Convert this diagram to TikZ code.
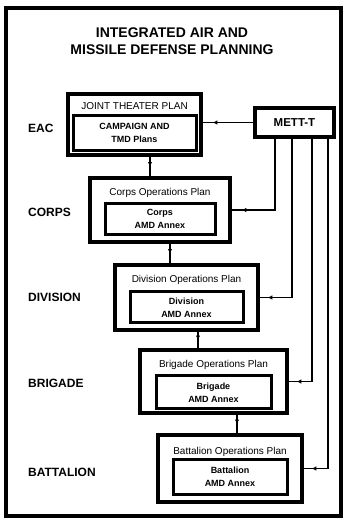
\documentclass[tikz,border=0pt]{standalone}
\usepackage{fontspec}
\setmainfont{Liberation Sans}
\usetikzlibrary{arrows.meta,decorations.markings}
\tikzset{
  framebox/.style={draw, line width=4pt},
  outerbox/.style={draw, line width=3.5pt, inner sep=0pt, fill=white},
  innerbox/.style={draw, line width=3pt, inner sep=0pt},
  conn/.style={line width=1.5pt},
  marked/.style={postaction=decorate, decoration={markings,
     mark=at position #1 with {\arrow{Latex[length=4.5pt,width=4.5pt]}}}},
  titletext/.style={font=\bfseries\fontsize{14}{17}\selectfont, align=center, inner sep=0pt},
  leveltext/.style={font=\bfseries\fontsize{12}{12}\selectfont, anchor=west, inner sep=0pt},
  boxtitle/.style={font=\fontsize{10}{10}\selectfont, inner sep=0pt},
  innertext/.style={font=\bfseries\fontsize{9}{13}\selectfont, align=center, inner sep=0pt},
}
\begin{document}
\begin{tikzpicture}[x=1pt,y=-1pt]
\useasboundingbox (0,0) rectangle (344,520);
\fill[white] (0,0) rectangle (344,520);
\draw[framebox] (5.5,7.5) rectangle (341,515.5);

\node[titletext] (title) at (172,41) {INTEGRATED AIR AND\\MISSILE DEFENSE PLANNING};

% level labels
\node[leveltext] (leac) at (28,128) {EAC};
\node[leveltext] (lcorps) at (28,212) {CORPS};
\node[leveltext] (ldiv) at (28,297) {DIVISION};
\node[leveltext] (lbde) at (28,383) {BRIGADE};
\node[leveltext] (lbn) at (28,472) {BATTALION};

% EAC
\node[outerbox, minimum width=133pt, minimum height=61pt] (eac) at (134.5,124.5) {};
\node[boxtitle] (eact) at (134.5,106) {JOINT THEATER PLAN};
\node[innerbox, minimum width=123pt, minimum height=35pt] (eacin) at (134.5,132.5) {};
\node[innertext] (eacint) at (134.5,132.5) {CAMPAIGN AND\\TMD Plans};

% Corps
\node[outerbox, minimum width=140pt, minimum height=64pt] (corps) at (160,210) {};
\node[boxtitle] (corpst) at (160,193) {Corps Operations Plan};
\node[innerbox, minimum width=110pt, minimum height=31pt] (corpsin) at (160,218.5) {};
\node[innertext] (corpsint) at (160,219) {Corps\\AMD Annex};

% Division
\node[outerbox, minimum width=143pt, minimum height=65pt] (div) at (186.5,297.5) {};
\node[boxtitle] (divt) at (186.5,280) {Division Operations Plan};
\node[innerbox, minimum width=113pt, minimum height=31pt] (divin) at (186.5,306.5) {};
\node[innertext] (divint) at (186.5,307.5) {Division\\AMD Annex};

% Brigade
\node[outerbox, minimum width=147pt, minimum height=63pt] (bde) at (213.5,381.5) {};
\node[boxtitle] (bdet) at (213.5,365) {Brigade Operations Plan};
\node[innerbox, minimum width=115pt, minimum height=33pt] (bdein) at (213.5,391.5) {};
\node[innertext] (bdeint) at (213.5,392.5) {Brigade\\AMD Annex};

% Battalion
\node[outerbox, minimum width=144pt, minimum height=67pt] (bn) at (230,468.5) {};
\node[boxtitle] (bnt) at (230,452) {Battalion Operations Plan};
\node[innerbox, minimum width=114pt, minimum height=35pt] (bnin) at (230,476.5) {};
\node[innertext] (bnint) at (230,477) {Battalion\\AMD Annex};

% METT-T
\node[outerbox, minimum width=79pt, minimum height=29pt, font=\bfseries\fontsize{11.5}{11.5}\selectfont] (mett) at (294.5,122.5) {METT-T};

% vertical connector x positions
\coordinate (v1) at (150,0);
\coordinate (v2) at (170,0);
\coordinate (v3) at (198,0);
\coordinate (v4) at (237,0);
\coordinate (m1) at (275,0);
\coordinate (m2) at (292,0);
\coordinate (m3) at (312,0);
\coordinate (m4) at (328,0);

\draw[conn, marked=0.5] (v1 |- eac.south) -- (v1 |- corps.north);
\draw[conn, marked=0.5] (v2 |- corps.south) -- (v2 |- div.north);
\draw[conn, marked=0.5] (v3 |- div.south) -- (v3 |- bde.north);
\draw[conn, marked=0.5] (v4 |- bde.south) -- (v4 |- bn.north);

\draw[conn, marked=-10pt] (mett.west) -- (mett.west -| eac.east);
\draw[conn, marked=-10pt] (m1 |- mett.south) -- (m1 |- corps.east) -- (corps.east);
\draw[conn, marked=-8pt] (m2 |- mett.south) -- (m2 |- div.east) -- (div.east);
\draw[conn, marked=-8pt] (m3 |- mett.south) -- (m3 |- bde.east) -- (bde.east);
\draw[conn, marked=-8pt] (m4 |- mett.south) -- (m4 |- bn.east) -- (bn.east);
\end{tikzpicture}
\end{document}
